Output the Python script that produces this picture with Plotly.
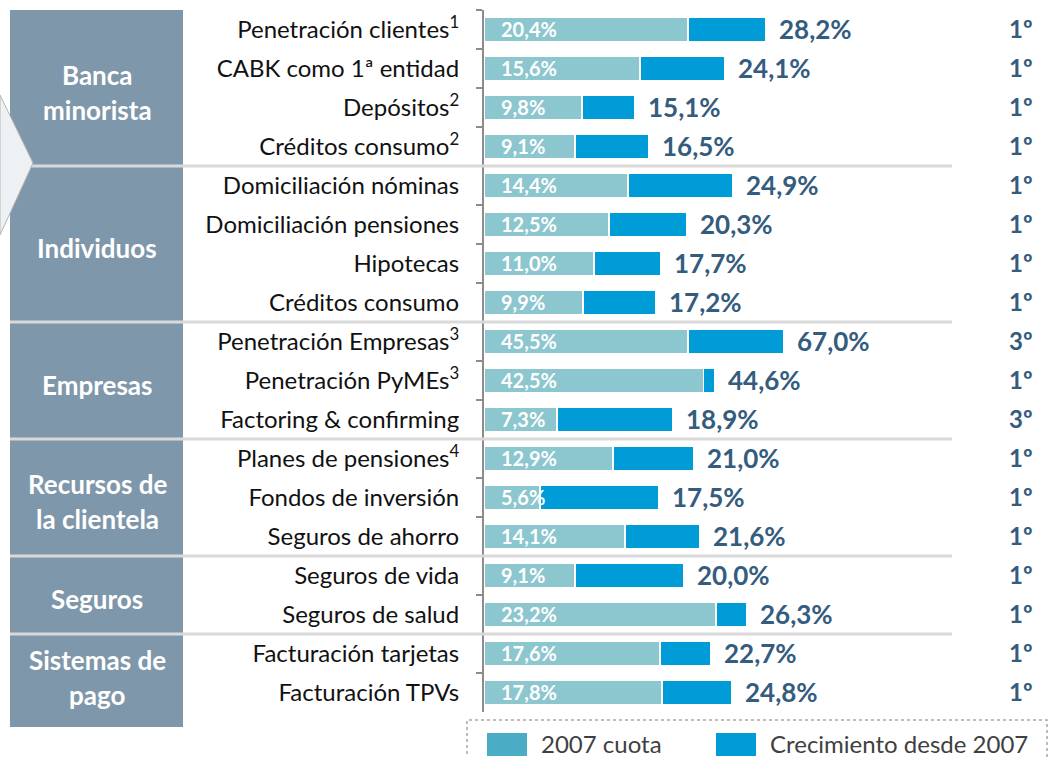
import plotly.graph_objects as go

# ---------------- data ----------------
categories = [
    "Penetración clientes<sup>1</sup>",
    "CABK como 1ª entidad",
    "Depósitos<sup>2</sup>",
    "Créditos consumo<sup>2</sup>",
    "Domiciliación nóminas",
    "Domiciliación pensiones",
    "Hipotecas",
    "Créditos consumo",
    "Penetración Empresas<sup>3</sup>",
    "Penetración PyMEs<sup>3</sup>",
    "Factoring & confirming",
    "Planes de pensiones<sup>4</sup>",
    "Fondos de inversión",
    "Seguros de ahorro",
    "Seguros de vida",
    "Seguros de salud",
    "Facturación tarjetas",
    "Facturación TPVs",
]
cuota_2007 = [20.4, 15.6, 9.8, 9.1, 14.4, 12.5, 11.0, 9.9, 45.5, 42.5, 7.3,
              12.9, 5.6, 14.1, 9.1, 23.2, 17.6, 17.8]
cuota_actual = [28.2, 24.1, 15.1, 16.5, 24.9, 20.3, 17.7, 17.2, 67.0, 44.6, 18.9,
                21.0, 17.5, 21.6, 20.0, 26.3, 22.7, 24.8]
ranking = ["1º", "1º", "1º", "1º", "1º", "1º", "1º", "1º", "3º", "1º", "3º",
           "1º", "1º", "1º", "1º", "1º", "1º", "1º"]
group_names = ["Banca<br>minorista", "Individuos", "Empresas",
               "Recursos de<br>la clientela", "Seguros", "Sistemas de<br>pago"]
group_sizes = [4, 4, 3, 3, 2, 2]
legend_labels = ["2007 cuota", "Crecimiento desde 2007"]

# ---------------- style ----------------
W, H = 1060, 757
FONT = "Lato"
TEAL = "#8CC6CE"
BLUE = "#009CD8"
LEG_TEAL = "#4BACC6"
NAVY = "#345C7E"
BOX = "#7F97AA"
SEP = "#D9D9D9"
AXIS = "#8C8C8C"


def px(x):
    return x / W


def py(y):
    return 1 - y / H


def fmt(v):
    return f"{v:.1f}".replace(".", ",") + "%"


# rows of the chart drawn on their own (compressed) value scales, as in the original
axis_of = ["x"] * len(categories)
axis_of[8] = "x2"
axis_of[9] = "x3"

fig = go.Figure()
for ax in ["x", "x2", "x3"]:
    idx = [i for i, a in enumerate(axis_of) if a == ax]
    ys = [categories[i] for i in idx]
    base = [cuota_2007[i] for i in idx]
    growth = [round(cuota_actual[i] - cuota_2007[i], 1) for i in idx]
    fig.add_bar(y=ys, x=base, orientation="h", xaxis=ax, yaxis="y", width=0.62,
                marker=dict(color=TEAL, line=dict(color="white", width=1.5)),
                name=legend_labels[0], showlegend=False, hoverinfo="skip")
    fig.add_bar(y=ys, x=growth, orientation="h", xaxis=ax, yaxis="y", width=0.62,
                marker=dict(color=BLUE, line=dict(color="white", width=1.5)),
                name=legend_labels[1], showlegend=False, hoverinfo="skip")

annotations = []
# labels inside bars and totals
for i, cat in enumerate(categories):
    ax = axis_of[i]
    annotations.append(dict(x=0, y=cat, xref=ax, yref="y", xanchor="left",
                            yanchor="middle", xshift=15, yshift=1, showarrow=False,
                            text=fmt(cuota_2007[i]),
                            font=dict(family=FONT, size=20, color="white", weight="bold")))
    annotations.append(dict(x=cuota_actual[i], y=cat, xref=ax, yref="y", xanchor="left",
                            yanchor="middle", xshift=11, yshift=1, showarrow=False,
                            text=fmt(cuota_actual[i]),
                            font=dict(family=FONT, size=26, color=NAVY, weight="bold")))
    annotations.append(dict(x=px(1021), y=cat, xref="paper", yref="y", xanchor="center",
                            yanchor="middle", yshift=1, showarrow=False, text=ranking[i],
                            font=dict(family=FONT, size=24, color=NAVY, weight="bold")))

shapes = [dict(type="rect", xref="paper", yref="paper", x0=px(10), x1=px(183),
               y0=py(727), y1=py(10), fillcolor=BOX, line=dict(width=0), layer="below")]

# group labels and separators
start = 0
for g, n in zip(group_names, group_sizes):
    mid = start + (n - 1) / 2
    lines = g.split("<br>")
    for k, ln in enumerate(lines):
        off = (k - (len(lines) - 1) / 2) * 35
        annotations.append(dict(x=px(97), y=mid, xref="paper", yref="y", xanchor="center",
                                yanchor="middle", yshift=-4 - off, showarrow=False, text=ln,
                                font=dict(family=FONT, size=26, color="white", weight="bold")))
    start += n
    if start < len(categories):
        shapes.append(dict(type="line", xref="paper", yref="y", x0=px(10), x1=px(952),
                           y0=start - 0.5, y1=start - 0.5, line=dict(color=SEP, width=3),
                           layer="above"))

# chevron from the neighbouring slide element
shapes.append(dict(type="path", xref="paper", yref="paper",
                   path=f"M 0,{py(95)} L {px(33)},{py(163)} L 0,{py(235)} Z",
                   fillcolor="#EDF1F4", line=dict(color="#B5B5B5", width=1), layer="above"))

# legend
shapes.append(dict(type="rect", xref="paper", yref="paper", x0=px(467), x1=px(1047),
                   y0=py(765), y1=py(720), line=dict(color="#A6A6A6", width=1.5, dash="dot"),
                   fillcolor="rgba(0,0,0,0)"))
for x0, col, lab in [(487, LEG_TEAL, legend_labels[0]), (716, BLUE, legend_labels[1])]:
    shapes.append(dict(type="rect", xref="paper", yref="paper", x0=px(x0), x1=px(x0 + 40),
                       y0=py(756), y1=py(733), fillcolor=col, line=dict(width=0)))
    annotations.append(dict(x=px(x0 + 52), y=py(743), xref="paper", yref="paper",
                            xanchor="left", yanchor="middle", showarrow=False, text=lab,
                            font=dict(family=FONT, size=24, color="#404040")))

x_domain = [px(484), 1]
fig.update_layout(
    width=W, height=H, margin=dict(l=0, r=0, t=0, b=0),
    paper_bgcolor="white", plot_bgcolor="white",
    barmode="stack", showlegend=False,
    xaxis=dict(domain=x_domain, range=[0, 57.6], visible=False, fixedrange=True),
    xaxis2=dict(domain=x_domain, range=[0, 576 / 4.48], overlaying="x", anchor="y",
                visible=False),
    xaxis3=dict(domain=x_domain, range=[0, 576 / 5.17], overlaying="x", anchor="y",
                visible=False),
    yaxis=dict(domain=[py(712), py(10)], type="category", categoryorder="array",
               categoryarray=categories, range=[len(categories) - 0.5, -0.5],
               showline=True, linecolor=AXIS, linewidth=2, ticks="outside",
               tickson="boundaries", ticklen=6, tickwidth=1.5, tickcolor=AXIS,
               ticklabelstandoff=18, showgrid=False, zeroline=False,
               tickfont=dict(family=FONT, size=24, color="#111111")),
    shapes=shapes, annotations=annotations,
)

fig.write_html("out.html", config={"displayModeBar": False},
               post_script="document.body.style.margin='0';document.body.style.overflow='hidden';")
